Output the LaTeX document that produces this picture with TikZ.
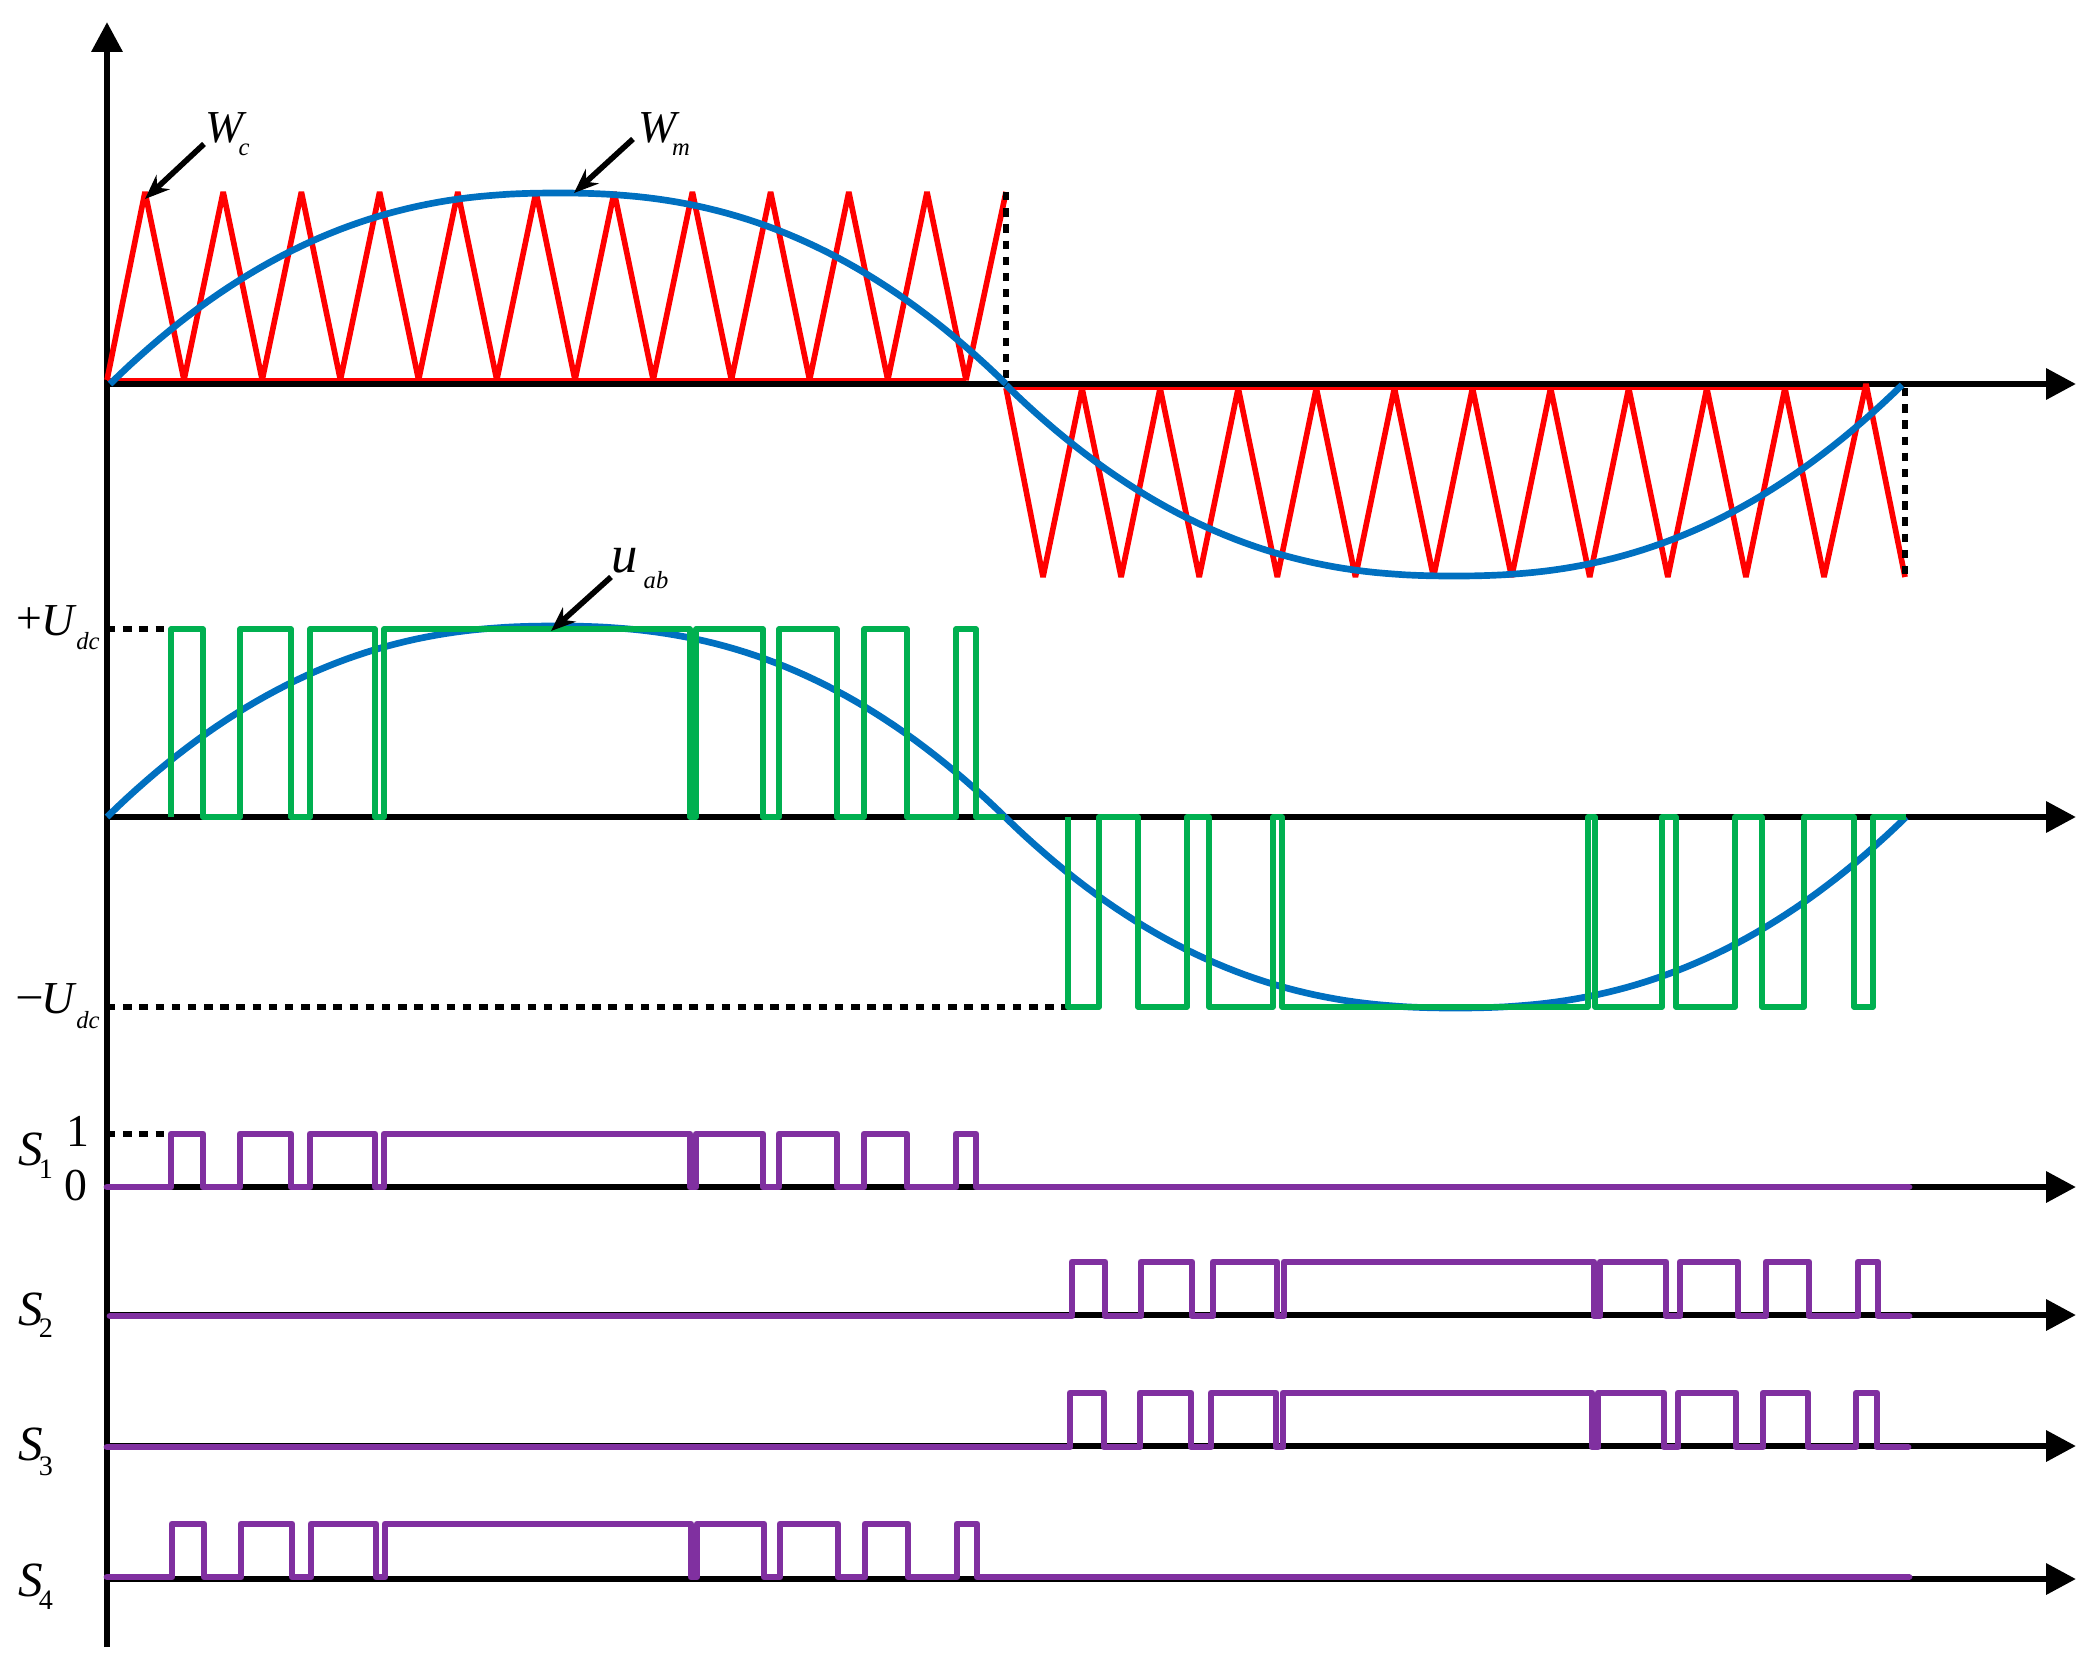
\documentclass[tikz,border=0pt]{standalone}
\usepackage{fontspec}
\setmainfont{Liberation Serif}
\usetikzlibrary{arrows.meta}
\definecolor{wavered}{HTML}{FF0000}
\definecolor{waveblue}{HTML}{0070C0}
\definecolor{wavegreen}{HTML}{00B050}
\definecolor{wavepurple}{HTML}{8030A0}
\tikzset{
    axisline/.style={line width=1.85pt, -{Triangle[length=8.5pt, width=8.5pt]}},
    carrier/.style={line width=1.6pt, wavered, line join=miter, miter limit=3},
    carrierbase/.style={line width=1pt, wavered},
    sinewave/.style={line width=1.9pt, waveblue},
    outwave/.style={line width=1.6pt, wavegreen, line join=round},
    gatewave/.style={line width=1.9pt, wavepurple, line join=round, line cap=round},
    guide/.style={line width=1.7pt, black, dash pattern=on 2.4pt off 2.2pt},
    pointer/.style={line width=1.6pt, -{Stealth[length=7pt, width=5.5pt]}},
    biglab/.style={inner sep=0pt, font=\fontsize{13}{13}\selectfont\itshape},
    sublab/.style={inner sep=0pt, font=\fontsize{7}{8}\selectfont\itshape},
    numlab/.style={inner sep=0pt, font=\fontsize{13}{13}\selectfont},
    subnum/.style={inner sep=0pt, font=\fontsize{8}{8}\selectfont}}
% rising/falling edges of the pulses, positive half then negative half
\newcommand{\posedges}{171/203,240/291,310/375,384/690,696/763,779/837,864/907,956/976}
\newcommand{\negedges}{1072/1105,1141/1192,1213/1277,1284/1594,1600/1666,1680/1738,1766/1809,1858/1878}
\newcommand{\negedgesb}{1070/1104,1140/1191,1211/1276,1283/1592,1598/1664,1678/1736,1763/1808,1856/1877}
\newcommand{\hump}[1]{(1-pow(max(abs(1-#1/90),0.001),2.3))}
\begin{document}
\begin{tikzpicture}[x=0.01cm, y=-0.01cm]
    \useasboundingbox (0,0) rectangle (2098,1661);

    % axes
    \coordinate (Ybot) at (107,1647);
    \coordinate (Ytop) at (107,22);
    \draw[axisline] (Ybot) -- (Ytop);
    \foreach \nm/\yy in {A/384, B/817, C/1187, D/1315, E/1446, F/1579} {
        \coordinate (O\nm) at (107,\yy);
        \coordinate (T\nm) at (2076,\yy);
        \draw[axisline] (O\nm) -- (T\nm);
    }

    % carrier
    \draw[carrierbase] (107,379.5) -- (966,379.5);
    \draw[carrierbase] (1006,388.5) -- (1863,388.5);
    \draw[carrier] (107,380) foreach \k in {0,...,10} { -- ({145+78.2*\k},192) -- ({184+78.2*\k},380) } -- (1006,192);
    \draw[carrier] (1006,388) foreach \k in {0,...,9} { -- ({1043+78.1*\k},577) -- ({1082+78.1*\k},388) } -- (1824,577) -- (1866,384) -- (1905,577);
    \coordinate (G1a) at (1006,192);
    \coordinate (G1b) at (1006,384);
    \coordinate (G2a) at (1905,388);
    \coordinate (G2b) at (1905,580);
    \draw[guide] (G1a) -- (G1b);
    \draw[guide] (G2a) -- (G2b);

    % modulating waves
    \draw[sinewave] plot[domain=0:180, samples=91] ({110+\x/180*896},{384-191*\hump{\x}});
    \draw[sinewave] plot[domain=0:180, samples=91] ({1006+\x/180*896},{385+191*\hump{\x}});
    \draw[sinewave] plot[domain=0:180, samples=91] ({107+\x/180*898},{817-191*\hump{\x}});
    \draw[sinewave] plot[domain=0:180, samples=91] ({1005+\x/180*901},{817+191*\hump{\x}});

    % output voltage
    \coordinate (Up) at (107,629);
    \coordinate (UpEnd) at (171,629);
    \coordinate (Um) at (107,1007);
    \coordinate (UmEnd) at (1068,1007);
    \draw[guide] (Up) -- (UpEnd);
    \draw[guide] (Um) -- (UmEnd);
    \draw[outwave] (171,817) foreach \a/\b in \posedges { -- (\a,817) -- (\a,629) -- (\b,629) -- (\b,817) } -- (1005,817);
    \draw[outwave] (1068,817) -- (1068,1007) -- (1099,1007) -- (1099,817) -- (1138,817) -- (1138,1007) -- (1187,1007) -- (1187,817)
        -- (1209,817) -- (1209,1007) -- (1273,1007) -- (1273,817) -- (1282,817) -- (1282,1007) -- (1588,1007) -- (1588,817)
        -- (1595,817) -- (1595,1007) -- (1662,1007) -- (1662,817) -- (1676,817) -- (1676,1007) -- (1735,1007) -- (1735,817)
        -- (1762,817) -- (1762,1007) -- (1804,1007) -- (1804,817) -- (1854,817) -- (1854,1007) -- (1873,1007) -- (1873,817) -- (1906,817);

    % gate signals
    \coordinate (One) at (107,1134);
    \coordinate (OneEnd) at (171,1134);
    \draw[guide] (One) -- (OneEnd);
    \draw[gatewave] (107,1187) foreach \a/\b in \posedges { -- (\a,1187) -- (\a,1134) -- (\b,1134) -- (\b,1187) } -- (1909,1187);
    \draw[gatewave] (110,1316) foreach \a/\b in \negedges { -- (\a,1316) -- (\a,1262) -- (\b,1262) -- (\b,1316) } -- (1909,1316);
    \draw[gatewave] (107,1447) foreach \a/\b in \negedgesb { -- (\a,1447) -- (\a,1393) -- (\b,1393) -- (\b,1447) } -- (1908,1447);
    \draw[gatewave] (107,1577) foreach \a/\b in \posedges { -- (\a+1,1577) -- (\a+1,1524) -- (\b+1,1524) -- (\b+1,1577) } -- (1909,1577);

    % labels
    \node[biglab] (Wc) at (225,128) {W};
    \node[sublab] (WcSub) at (244,150) {c};
    \node[biglab] (Wm) at (658,128) {W};
    \node[sublab] (WmSub) at (681,150) {m};
    \node[biglab, font=\fontsize{15}{15}\selectfont\itshape] (uab) at (625,561) {u};
    \node[sublab] (uabSub) at (656,580) {ab};
    \coordinate (WcHead) at (145,199);
    \coordinate (WcTail) at (204,144);
    \coordinate (WmHead) at (574,193);
    \coordinate (WmTail) at (633,139);
    \coordinate (uabHead) at (551,631);
    \coordinate (uabTail) at (611,577);
    \draw[pointer] (WcTail) -- (WcHead);
    \draw[pointer] (WmTail) -- (WmHead);
    \draw[pointer] (uabTail) -- (uabHead);

    \node[numlab] (UpPlus) at (29,621) {+};
    \node[biglab] (UpU) at (58,621) {U};
    \node[sublab] (UpSub) at (88,641) {dc};
    \node[numlab] (UmMinus) at (30,1003) {–};
    \node[biglab] (UmU) at (58,999) {U};
    \node[sublab] (UmSub) at (88,1020) {dc};
    \node[numlab] (OneLab) at (78,1131) {1};
    \node[numlab] (ZeroLab) at (76,1186) {0};
    \foreach \nr/\sy/\dy in {1/1149/1169, 2/1309/1328, 3/1444/1466, 4/1580/1600} {
        \node[biglab, font=\fontsize{14}{14}\selectfont\itshape] (S\nr) at (31,\sy) {S};
        \node[subnum] (S\nr Sub) at (46,\dy) {\nr};
    }
\end{tikzpicture}
\end{document}
